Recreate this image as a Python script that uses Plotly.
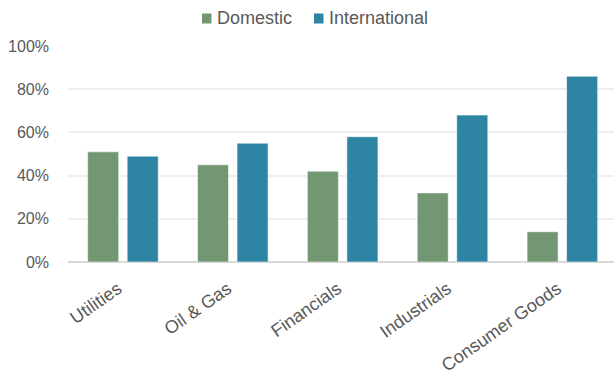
import plotly.graph_objects as go

# Share of revenue by sector
sectors = ["Utilities", "Oil & Gas", "Financials", "Industrials", "Consumer Goods"]
domestic = [0.51, 0.45, 0.42, 0.32, 0.14]
international = [0.49, 0.55, 0.58, 0.68, 0.86]
series_names = ["Domestic", "International"]

GREEN = "#739772"
BLUE = "#2D84A3"
TEXT = "#595959"
FONT = "Liberation Sans, Arial, sans-serif"

W, H = 614, 375
M_L, M_R, M_T, M_B = 68, 0, 46, 113

fig = go.Figure()
for name, vals, col in zip(series_names, [domestic, international], [GREEN, BLUE]):
    fig.add_trace(go.Bar(
        name=name, x=sectors, y=vals,
        marker=dict(color=col, line=dict(color="rgba(255,255,255,0.55)", width=1)),
        showlegend=False,
    ))

# Compact key above the plot: small square swatch followed closely by its label
def px_to_paper_x(px):
    return (px - M_L) / (W - M_L - M_R)

def px_to_paper_y(py):
    return (H - M_B - py) / (H - M_T - M_B)

key_items = [(series_names[0], GREEN, 202), (series_names[1], BLUE, 314)]
shapes, annotations = [], []
for name, col, x0 in key_items:
    shapes.append(dict(
        type="rect", xref="paper", yref="paper",
        x0=px_to_paper_x(x0), x1=px_to_paper_x(x0 + 9.5),
        y0=px_to_paper_y(23.5), y1=px_to_paper_y(13.5),
        fillcolor=col, line=dict(width=0),
    ))
    annotations.append(dict(
        text=name, xref="paper", yref="paper",
        x=px_to_paper_x(x0 + 13), y=px_to_paper_y(18.5),
        xanchor="left", yanchor="middle", showarrow=False,
        font=dict(size=18, color=TEXT, family=FONT),
    ))

fig.update_layout(
    width=W, height=H,
    margin=dict(l=M_L, r=M_R, t=M_T, b=M_B),
    paper_bgcolor="white", plot_bgcolor="white",
    barmode="group", bargap=0.28, bargroupgap=0.215,
    font=dict(family=FONT, color=TEXT, size=16),
    shapes=shapes, annotations=annotations,
)
fig.update_xaxes(
    range=[-0.5, 4.47],
    tickangle=-35, tickfont=dict(size=18, color=TEXT),
    ticklabelstandoff=12, ticklabelshift=-5,
    showgrid=False, showline=False, ticks="",
)
fig.update_yaxes(
    range=[0, 1], dtick=0.2, tickformat=".0%",
    tickfont=dict(size=16, color=TEXT),
    showgrid=True, gridcolor="#EEEEEE", gridwidth=1.5,
    zeroline=True, zerolinecolor="#D9D9D9", zerolinewidth=2,
    ticklabelstandoff=18, showline=False, ticks="",
)

fig.write_html("out.html")
